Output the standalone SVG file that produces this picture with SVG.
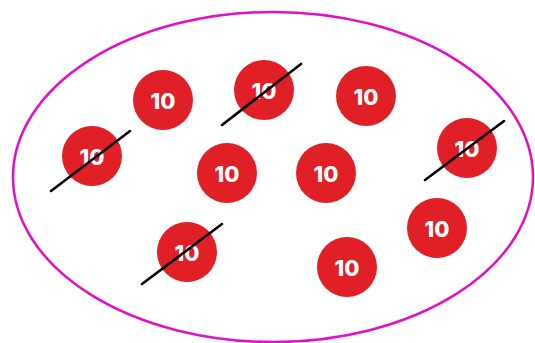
<svg xmlns="http://www.w3.org/2000/svg" width="535" height="343" viewBox="0 0 535 343">
<style>
.c{fill:#e01f26}
.t{fill:#fff;font-family:Inter,"Open Sans","Liberation Sans",sans-serif;font-weight:800;font-size:22px;text-anchor:middle;dominant-baseline:central}
.x{stroke:#000;stroke-width:2.6;stroke-linecap:round}
</style>
<rect width="535" height="343" fill="#fff"/>
<ellipse cx="273" cy="177" rx="260" ry="165" fill="none" stroke="#e010c8" stroke-width="2.5"/>
<g id="n1"><circle class="c" cx="163" cy="100" r="30"/><text class="t" x="163" y="101">10</text></g>
<g id="n2"><circle class="c" cx="264" cy="90" r="30"/><text class="t" x="264" y="91">10</text></g>
<g id="n3"><circle class="c" cx="92" cy="156" r="30"/><text class="t" x="92" y="157">10</text></g>
<g id="n4"><circle class="c" cx="227" cy="173" r="30"/><text class="t" x="227" y="174">10</text></g>
<g id="n5"><circle class="c" cx="326" cy="173" r="30"/><text class="t" x="326" y="174">10</text></g>
<g id="n6"><circle class="c" cx="366" cy="96" r="30"/><text class="t" x="366" y="97">10</text></g>
<g id="n7"><circle class="c" cx="467" cy="148" r="30"/><text class="t" x="467" y="149">10</text></g>
<g id="n8"><circle class="c" cx="437" cy="228" r="30"/><text class="t" x="437" y="229">10</text></g>
<g id="n9"><circle class="c" cx="347" cy="267" r="30"/><text class="t" x="347" y="268">10</text></g>
<g id="n10"><circle class="c" cx="187" cy="252" r="30"/><text class="t" x="187" y="253">10</text></g>
<g id="connectors">
<line class="x" x1="51" y1="191" x2="130" y2="131"/>
<line class="x" x1="222" y1="125" x2="301" y2="64"/>
<line class="x" x1="142" y1="284" x2="222" y2="224"/>
<line class="x" x1="425" y1="180" x2="504" y2="121"/>
</g>
</svg>
